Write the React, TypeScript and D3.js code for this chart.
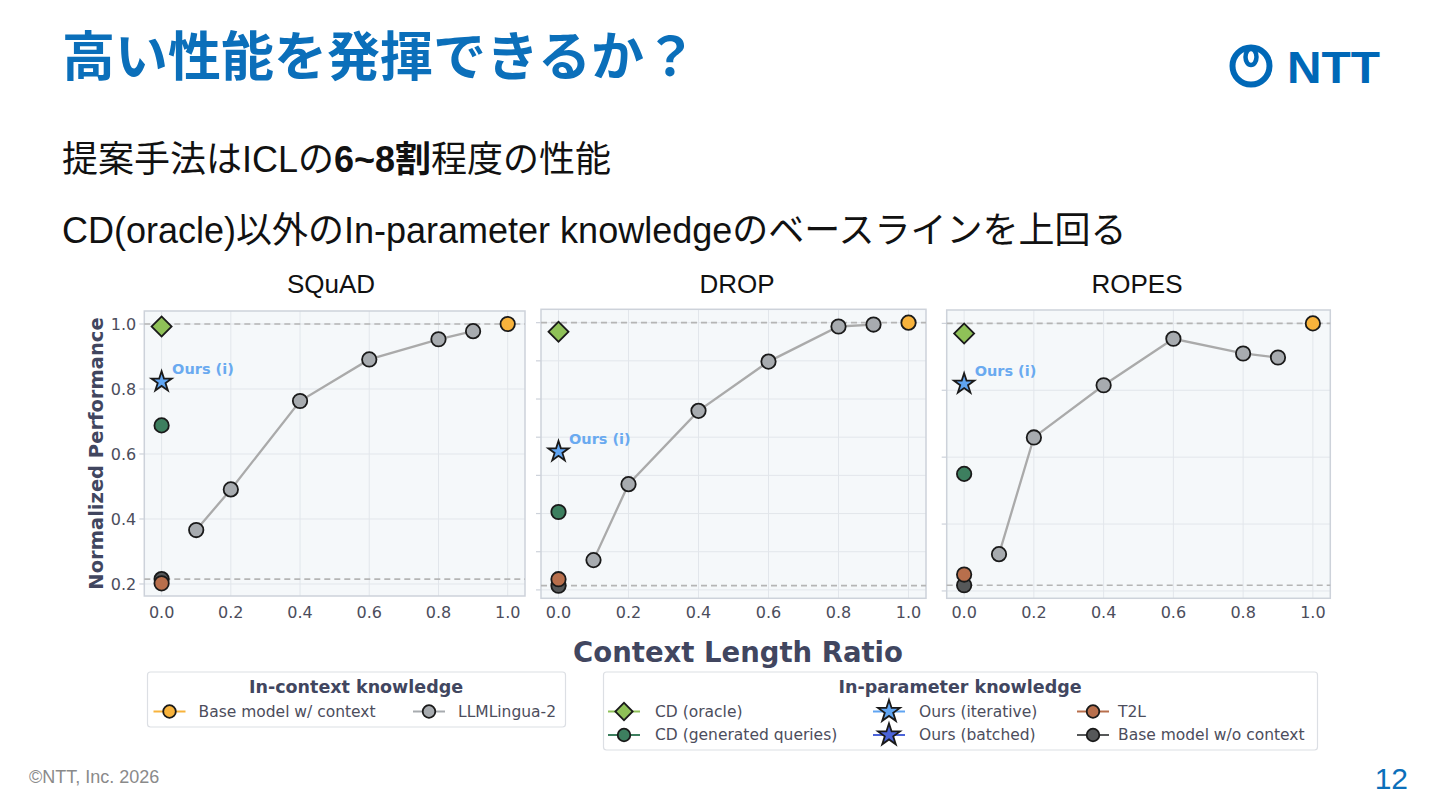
import React from 'react';
import * as d3 from 'd3';

// ---------- data ----------
const datasetNames = ['SQuAD', 'DROP', 'ROPES'];
const ratios = [0.1, 0.2, 0.4, 0.6, 0.8, 0.9];
const squadLingua = [0.366, 0.491, 0.763, 0.891, 0.953, 0.978];
const dropLingua = [0.378, 0.577, 0.769, 0.898, 0.99, 0.995];
const ropesLingua = [0.31, 0.659, 0.815, 0.954, 0.91, 0.898];
const baseWithContext = [1.0, 1.0, 1.0];
const cdOracle = [0.992, 0.976, 0.97];
const cdGenerated = [0.688, 0.504, 0.55];
const oursIterative = [0.822, 0.662, 0.819];
const t2l = [0.202, 0.328, 0.249];
const baseNoContext = [0.215, 0.311, 0.217];
const xTicks = [0, 0.2, 0.4, 0.6, 0.8, 1.0];
const yTicksSquad = [0.2, 0.4, 0.6, 0.8, 1.0];
const yTicksDrop = [0.3, 0.4, 0.5, 0.6, 0.7, 0.8, 0.9, 1.0];
const yTicksRopes = [0.2, 0.4, 0.6, 0.8, 1.0];
const starLabel = 'Ours (i)';
const inContextTitle = 'In-context knowledge';
const inParamTitle = 'In-parameter knowledge';

// ---------- styles / layout ----------
const C = {
  blue: '#0b6fba',
  ntt: '#0068b7',
  plotBg: '#f5f8fa',
  grid: '#e2e6eb',
  frame: '#cdd2da',
  dash: '#b5b5b5',
  lingua: '#a7abaf',
  linguaLine: '#aaaaaa',
  baseCtx: '#f8b33c',
  oracle: '#8fc158',
  cdGen: '#3d7f5f',
  oursI: '#60a5f2',
  oursB: '#4b63d8',
  t2l: '#b86f4c',
  baseNo: '#565859',
  edge: '#1a1a1a',
  tick: '#4c4d5c',
  axisLabel: '#41465f',
  starText: '#6aaaf0',
};
const SANS = "'DejaVu Sans', sans-serif";
const JP = "'Liberation Sans', 'Noto Sans CJK JP', sans-serif";
const X_DOMAIN: [number, number] = [-0.05, 1.05];

const panels = [
  { name: datasetNames[0], lingua: squadLingua, left: 144.3, right: 525, top: 311, bottom: 596, yDomain: [0.163, 1.04], yTicks: yTicksSquad, labels: true, titleX: 331 },
  { name: datasetNames[1], lingua: dropLingua, left: 541, right: 926, top: 309.3, bottom: 598.3, yDomain: [0.278, 1.035], yTicks: yTicksDrop, labels: false, titleX: 737 },
  { name: datasetNames[2], lingua: ropesLingua, left: 946.7, right: 1330.3, top: 310, bottom: 598.3, yDomain: [0.178, 1.04], yTicks: yTicksRopes, labels: false, titleX: 1137 },
];

const R = 7.2;
const SW = 1.8;
const diamondPath = d3.symbol(d3.symbolSquare, 200)()!;
const starPath = d3.symbol(d3.symbolStar, 128)()!;
const legDiamond = d3.symbol(d3.symbolSquare, 150)()!;
const legStar = d3.symbol(d3.symbolStar, 150)()!;

function Panel({ p, i }: { p: any; i: number }) {
  const x = d3.scaleLinear().domain(X_DOMAIN).range([p.left, p.right]);
  const y = d3.scaleLinear().domain(p.yDomain).range([p.bottom, p.top]);
  const line = d3.line<number>().x((_, k) => x(ratios[k])).y((d) => y(d));
  const x0 = x(0);
  return (
    <g>
      <text x={p.titleX} y={293} textAnchor="middle" fontFamily={JP} fontSize={26} fill="#111">{p.name}</text>
      <rect x={p.left} y={p.top} width={p.right - p.left} height={p.bottom - p.top} fill={C.plotBg} />
      {xTicks.map((t) => (
        <line key={'gx' + t} x1={x(t)} x2={x(t)} y1={p.top} y2={p.bottom} stroke={C.grid} strokeWidth={1} />
      ))}
      {p.yTicks.map((t: number) => (
        <line key={'gy' + t} x1={p.left} x2={p.right} y1={y(t)} y2={y(t)} stroke={C.grid} strokeWidth={1} />
      ))}
      <rect x={p.left} y={p.top} width={p.right - p.left} height={p.bottom - p.top} fill="none" stroke={C.frame} strokeWidth={1.5} />
      {p.yTicks.map((t: number) => (
        <line key={'ty' + t} x1={p.left - 5} x2={p.left} y1={y(t)} y2={y(t)} stroke={C.frame} strokeWidth={1.2} />
      ))}
      {p.labels &&
        p.yTicks.map((t: number) => (
          <text key={'ly' + t} x={p.left - 8} y={y(t)} dy="0.35em" textAnchor="end" fontFamily={SANS} fontSize={16} fill={C.tick}>
            {d3.format('.1f')(t)}
          </text>
        ))}
      {xTicks.map((t) => (
        <text key={'lx' + t} x={x(t)} y={612} dy="0.35em" textAnchor="middle" fontFamily={SANS} fontSize={16} fill={C.tick}>
          {d3.format('.1f')(t)}
        </text>
      ))}
      {/* dashed reference lines */}
      <line x1={p.left} x2={p.right} y1={y(baseWithContext[i])} y2={y(baseWithContext[i])} stroke={C.dash} strokeWidth={1.7} strokeDasharray="6,4" />
      <line x1={p.left} x2={p.right} y1={y(baseNoContext[i])} y2={y(baseNoContext[i])} stroke={C.dash} strokeWidth={1.7} strokeDasharray="6,4" />
      {/* LLMLingua-2 */}
      <path d={line(p.lingua)!} fill="none" stroke={C.linguaLine} strokeWidth={2.3} />
      {p.lingua.map((v: number, k: number) => (
        <circle key={'lg' + k} cx={x(ratios[k])} cy={y(v)} r={R} fill={C.lingua} stroke={C.edge} strokeWidth={SW} />
      ))}
      <circle cx={x(1)} cy={y(baseWithContext[i])} r={R} fill={C.baseCtx} stroke={C.edge} strokeWidth={SW} />
      <path d={diamondPath} transform={`translate(${x0},${y(cdOracle[i])}) rotate(45)`} fill={C.oracle} stroke={C.edge} strokeWidth={SW} />
      <circle cx={x0} cy={y(cdGenerated[i])} r={R} fill={C.cdGen} stroke={C.edge} strokeWidth={SW} />
      <circle cx={x0} cy={y(baseNoContext[i])} r={R} fill={C.baseNo} stroke={C.edge} strokeWidth={SW} />
      <circle cx={x0} cy={y(t2l[i])} r={R} fill={C.t2l} stroke={C.edge} strokeWidth={SW} />
      <path d={starPath} transform={`translate(${x0},${y(oursIterative[i])})`} fill={C.oursI} stroke={C.edge} strokeWidth={SW} />
      <text x={x0 + 10.5} y={y(oursIterative[i]) - 12.7} dy="0.35em" fontFamily={SANS} fontWeight="bold" fontSize={14.5} fill={C.starText}>
        {starLabel}
      </text>
    </g>
  );
}

function LegendItem({ x, y, color, fill, shape, label, tx }: any) {
  return (
    <g>
      <line x1={x - 16} x2={x + 16} y1={y} y2={y} stroke={color} strokeWidth={2} />
      {shape === 'circle' && <circle cx={x} cy={y} r={6.3} fill={fill} stroke={C.edge} strokeWidth={SW} />}
      {shape === 'diamond' && <path d={legDiamond} transform={`translate(${x},${y}) rotate(45)`} fill={fill} stroke={C.edge} strokeWidth={SW} />}
      {shape === 'star' && <path d={legStar} transform={`translate(${x},${y})`} fill={fill} stroke={C.edge} strokeWidth={SW} />}
      <text x={tx} y={y} dy="0.35em" fontFamily={SANS} fontSize={15.5} fill={C.tick}>{label}</text>
    </g>
  );
}

export default function App() {
  return (
    <svg width={1440} height={810} style={{ position: 'absolute', left: 0, top: 0, background: '#fff' }}>
      <rect x={0} y={0} width={1440} height={810} fill="#fff" />
      {/* title */}
      <text x={62} y={76} fontFamily="'Noto Sans CJK JP', sans-serif" fontWeight="bold" fontSize={53} fill={C.blue}>
        高い性能を発揮できるか？
      </text>
      {/* NTT logo */}
      <g>
        <circle cx={1251} cy={66} r={18.5} fill="none" stroke={C.ntt} strokeWidth={6} />
        <ellipse cx={1251} cy={57} rx={5.5} ry={8} fill="none" stroke={C.ntt} strokeWidth={4.5} />
        <text x={1287} y={83} fontFamily="'Liberation Sans', sans-serif" fontWeight="bold" fontSize={44} fill={C.ntt} textLength={93} lengthAdjust="spacingAndGlyphs">
          NTT
        </text>
      </g>
      {/* body text */}
      <text x={62} y={172} fontFamily={JP} fontSize={36} fill="#111">
        提案手法はICLの<tspan fontWeight="bold">6~8割</tspan>程度の性能
      </text>
      <text x={62} y={243} fontFamily={JP} fontSize={36} fill="#111">
        CD(oracle)以外のIn-parameter knowledgeのベースラインを上回る
      </text>

      {panels.map((p, i) => (
        <Panel key={p.name} p={p} i={i} />
      ))}

      <text transform="translate(96,453.5) rotate(-90)" textAnchor="middle" dominantBaseline="central" fontFamily={SANS} fontWeight="bold" fontSize={19.5} fill={C.axisLabel}>
        Normalized Performance
      </text>
      <text x={738} y={652} dy="0.35em" textAnchor="middle" fontFamily={SANS} fontWeight="bold" fontSize={27.5} fill={C.axisLabel}>
        Context Length Ratio
      </text>

      {/* legend 1 */}
      <rect x={147.5} y={672} width={418} height={55} rx={3} fill="#fff" stroke="#dcdfe4" strokeWidth={1.2} />
      <text x={356} y={687} dy="0.35em" textAnchor="middle" fontFamily={SANS} fontWeight="bold" fontSize={17.5} fill={C.axisLabel}>
        {inContextTitle}
      </text>
      <LegendItem x={169.5} y={711.5} color={C.baseCtx} fill={C.baseCtx} shape="circle" label="Base model w/ context" tx={198.5} />
      <LegendItem x={429} y={711.5} color={C.lingua} fill={C.lingua} shape="circle" label="LLMLingua-2" tx={458} />

      {/* legend 2 */}
      <rect x={603.5} y={672} width={714} height={78} rx={3} fill="#fff" stroke="#dcdfe4" strokeWidth={1.2} />
      <text x={960} y={687} dy="0.35em" textAnchor="middle" fontFamily={SANS} fontWeight="bold" fontSize={17.5} fill={C.axisLabel}>
        {inParamTitle}
      </text>
      <LegendItem x={624} y={711.5} color={C.oracle} fill={C.oracle} shape="diamond" label="CD (oracle)" tx={655} />
      <LegendItem x={624} y={735} color={C.cdGen} fill={C.cdGen} shape="circle" label="CD (generated queries)" tx={655} />
      <LegendItem x={889} y={711.5} color={C.oursI} fill={C.oursI} shape="star" label="Ours (iterative)" tx={919} />
      <LegendItem x={889} y={735} color={C.oursB} fill={C.oursB} shape="star" label="Ours (batched)" tx={919} />
      <LegendItem x={1093} y={711.5} color={C.t2l} fill={C.t2l} shape="circle" label="T2L" tx={1118} />
      <LegendItem x={1093} y={735} color={C.baseNo} fill={C.baseNo} shape="circle" label="Base model w/o context" tx={1118} />

      {/* footer */}
      <text x={29} y={783} fontFamily="'Liberation Sans', sans-serif" fontSize={18} fill="#8a8a8a">
        ©NTT, Inc.  2026
      </text>
      <text x={1408} y={789} textAnchor="end" fontFamily="'Liberation Sans', sans-serif" fontSize={30} fill={C.blue}>
        12
      </text>
    </svg>
  );
}
